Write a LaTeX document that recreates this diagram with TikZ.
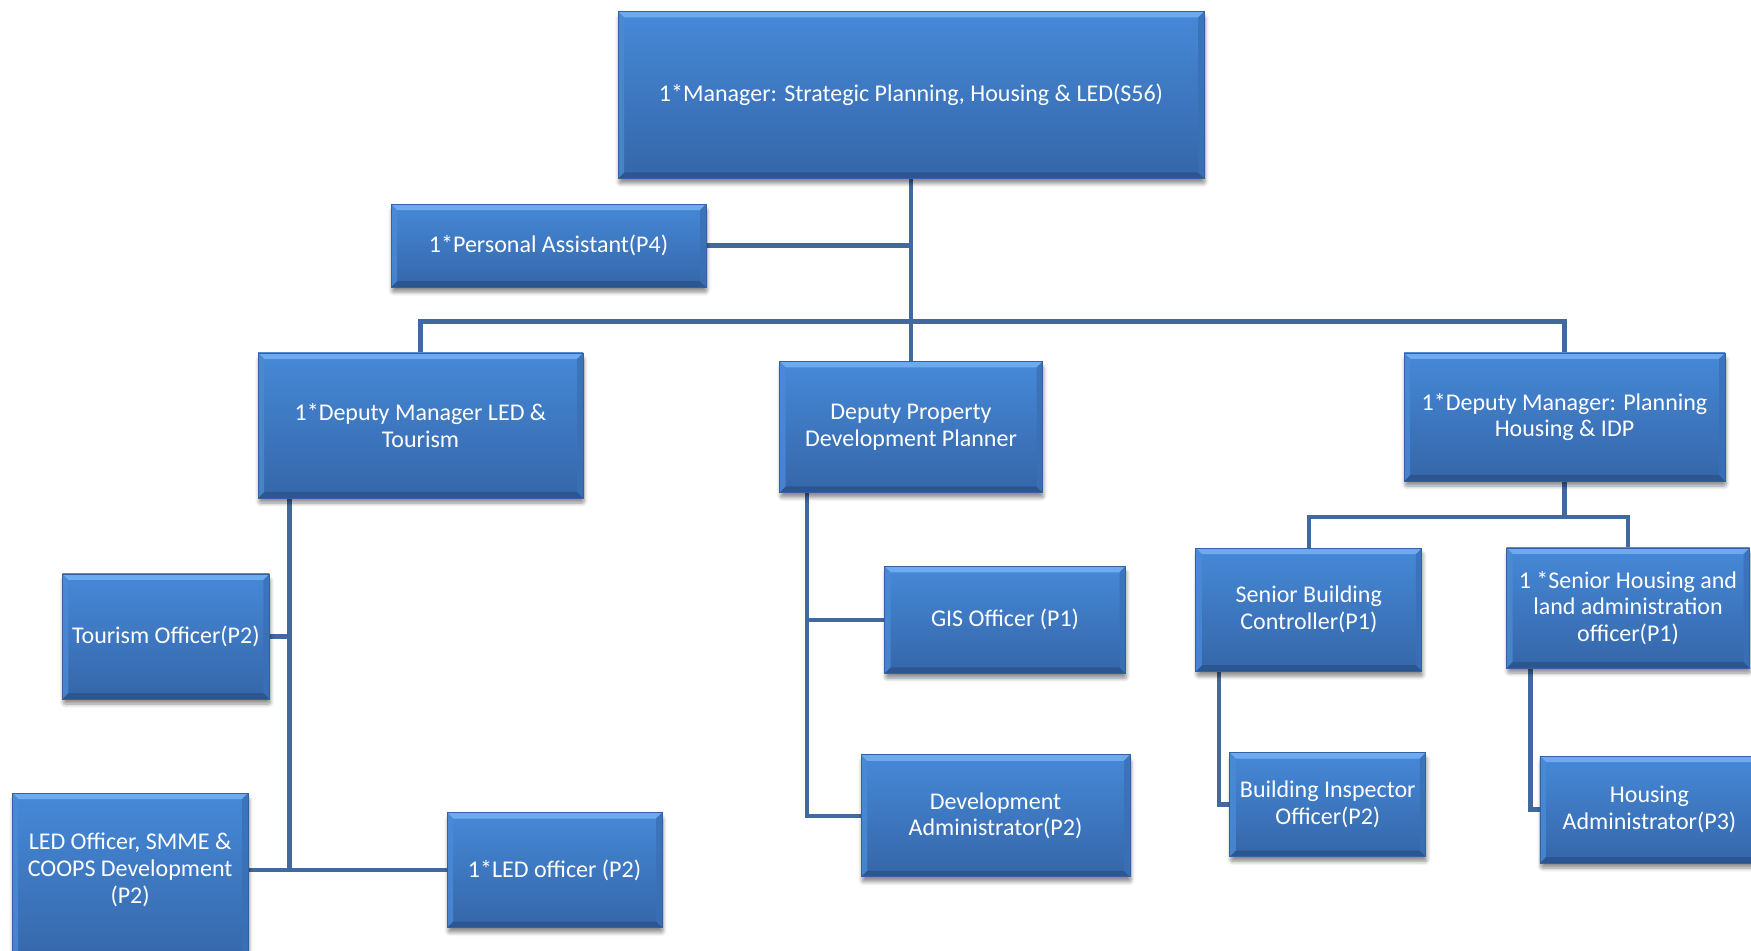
\documentclass[tikz,border=0pt]{standalone}
\usepackage{fontspec}
\setmainfont{Carlito}
\usetikzlibrary{shadows.blur,backgrounds}

\definecolor{boxtop}{HTML}{4689D8}
\definecolor{boxbot}{HTML}{3566A8}
\definecolor{bevlight}{HTML}{6EAAF0}
\definecolor{bevdark}{HTML}{2C5690}
\definecolor{bevleft}{HTML}{4A8AD6}
\definecolor{bevright}{HTML}{3A70B4}
\definecolor{boxedge}{HTML}{3462A0}
\definecolor{wire}{HTML}{41699F}

\newcommand{\bv}{3pt}

\tikzset{
  box/.style={rectangle, inner sep=0pt, align=center, text=white,
    font=\fontsize{12}{13.4}\selectfont,
    top color=boxtop, bottom color=boxbot, draw=boxedge, line width=0.4pt,
    blur shadow={shadow xshift=0.5pt, shadow yshift=-2.5pt, shadow blur steps=6,
      shadow blur extra rounding=1pt, shadow opacity=45},
    path picture={
      \fill[bevlight] (path picture bounding box.north west) -- (path picture bounding box.north east)
        -- ([xshift=-\bv,yshift=-\bv]path picture bounding box.north east)
        -- ([xshift=\bv,yshift=-\bv]path picture bounding box.north west) -- cycle;
      \fill[bevdark] (path picture bounding box.south west) -- (path picture bounding box.south east)
        -- ([xshift=-\bv,yshift=\bv]path picture bounding box.south east)
        -- ([xshift=\bv,yshift=\bv]path picture bounding box.south west) -- cycle;
      \fill[bevleft, opacity=0.8] (path picture bounding box.north west) -- (path picture bounding box.south west)
        -- ([xshift=\bv,yshift=\bv]path picture bounding box.south west)
        -- ([xshift=\bv,yshift=-\bv]path picture bounding box.north west) -- cycle;
      \fill[bevright, opacity=0.8] (path picture bounding box.north east) -- (path picture bounding box.south east)
        -- ([xshift=-\bv,yshift=\bv]path picture bounding box.south east)
        -- ([xshift=-\bv,yshift=-\bv]path picture bounding box.north east) -- cycle;
    }},
  sz/.style 2 args={minimum width=#1*0.5pt, minimum height=#2*0.5pt},
  wire/.style={draw=wire, line width=2.25pt}
}

\begin{document}
\begin{tikzpicture}[x=0.5pt, y=-0.5pt]
\useasboundingbox (0,0) rectangle (1751,951);

% boxes (centres and sizes in pixel units)
\node[box, sz={586}{167}] (man) at (911,95) {1*Manager: Strategic Planning, Housing \& LED(S56)};
\node[box, sz={315}{83}] (pa) at (548.5,245.7) {1*Personal Assistant(P4)};

\node[box, sz={325}{145}] (dled) at (420.5,425.5) {1*Deputy Manager LED \&\\Tourism};
\node[box, sz={263}{131}] (dprop) at (911,427) {Deputy Property\\Development Planner};
\node[box, sz={321}{128}] (dplan) at (1564.5,417) {1*Deputy Manager: Planning\\Housing \& IDP};

\node[box, sz={207}{125}] (tour) at (165.8,636.5) {Tourism Officer(P2)};
% this box runs off the bottom edge, so its text sits above the box centre
\node[box, sz={236}{176}] (smme) at (130.1,881)
  {\raisebox{2pt}[0pt][0pt]{\begin{tabular}{@{}c@{}}LED Officer, SMME \&\\COOPS Development\\(P2)\end{tabular}}};
\node[box, sz={215}{115}] (ledo) at (554.5,870) {1*LED officer (P2)};

\node[box, sz={241}{107}] (gis) at (1005,619.8) {GIS Officer (P1)};
\node[box, sz={269}{122}] (dadm) at (995.5,815.8) {Development\\Administrator(P2)};

\node[box, sz={226}{123}] (sbc) at (1308.8,609.7) {Senior Building\\Controller(P1)};
\node[box, sz={243}{120}] (shl) at (1628,608) {1 *Senior Housing and\\land administration\\officer(P1)};
\node[box, sz={196}{104}] (bio) at (1327.8,804.6) {Building Inspector\\Officer(P2)};
\node[box, sz={219}{107}] (hadm) at (1649.4,809.5) {Housing\\Administrator(P3)};

% junction points of the connector lines
\coordinate (bus) at (911,321.6);
\coordinate (hb) at (1564.5,517);
\coordinate (dledT) at ([xshift=16pt]dled.south west);
\coordinate (dpT) at ([xshift=14pt]dprop.south west);
\coordinate (sbT) at ([xshift=11.7pt]sbc.south west);
\coordinate (shT) at ([xshift=12.3pt]shl.south west);

\begin{scope}[on background layer]
  \draw[wire] (man.south) -- (dprop.north);
  \draw[wire] (pa.east) -- (pa.east -| man.south);
  \draw[wire] (dled.north) |- (bus) -| (dplan.north);

  \draw[wire] (dledT) -- (dledT |- ledo.west);
  \draw[wire] (tour.east) -- (tour.east -| dledT);
  \draw[wire] (ledo.west -| smme.east) -- (ledo.west);

  \draw[wire] (dpT) |- (dadm.west);
  \draw[wire] (gis.west) -- (gis.west -| dpT);

  \draw[wire] (dplan.south) -- (hb);
  \draw[wire] (sbc.north) |- (hb) -| (shl.north);
  \draw[wire] (sbT) |- (bio.west);
  \draw[wire] (shT) |- (hadm.west);
\end{scope}
\end{tikzpicture}
\end{document}
